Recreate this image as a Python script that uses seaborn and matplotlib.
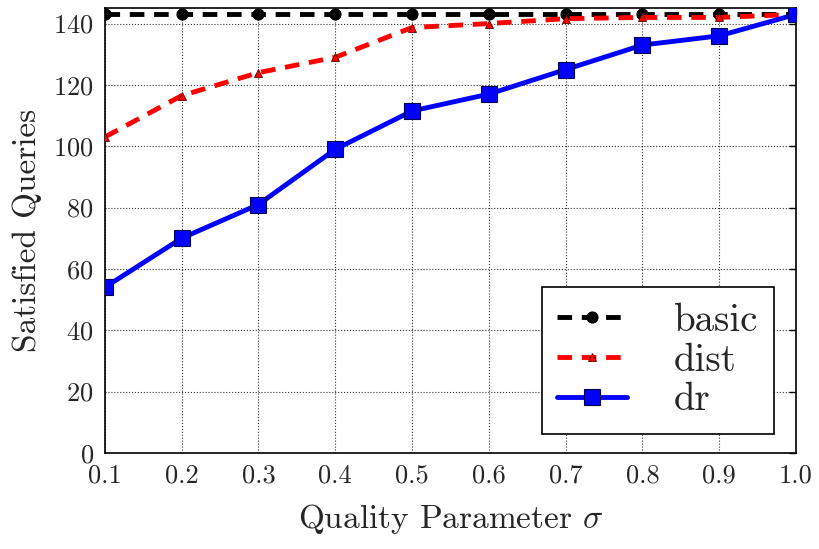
import numpy as np
import pandas as pd
import matplotlib
matplotlib.use("Agg")
import matplotlib.pyplot as plt
import seaborn as sns

sigma = [0.1, 0.2, 0.3, 0.4, 0.5, 0.6, 0.7, 0.8, 0.9, 1.0]
basic = [143, 143, 143, 143, 143, 143, 143, 143, 143, 143]
dist = [103, 116.5, 124, 129, 138.7, 140, 141.6, 142, 142, 143]
dr = [54, 70, 81, 99, 111.5, 117, 125, 133, 136, 143]

sns.set_style("white")
plt.rcParams['font.family'] = ['serif']
plt.rcParams['font.serif'] = ['cmr10', 'DejaVu Serif']
plt.rcParams['mathtext.fontset'] = 'cm'
plt.rcParams['axes.formatter.use_mathtext'] = True

fig, ax = plt.subplots(figsize=(8.19, 5.49), dpi=100)
fig.subplots_adjust(left=0.128, right=0.972, top=0.985, bottom=0.175)

sns.lineplot(x=sigma, y=basic, ax=ax, color='black', linestyle='--', linewidth=3.5,
             marker='o', markersize=8, markeredgecolor='black', label='basic', zorder=3)
sns.lineplot(x=sigma, y=dist, ax=ax, color='red', linestyle='--', linewidth=3.5,
             marker='^', markersize=6, markeredgecolor='#550000', markeredgewidth=0.6,
             label='dist', zorder=3)
sns.lineplot(x=sigma, y=dr, ax=ax, color='blue', linestyle='-', linewidth=3.5,
             marker='s', markersize=12, markeredgecolor='#000055', markeredgewidth=0.8,
             label='dr', zorder=3)
for ln in ax.lines[:2]:
    ln.set_dashes((3, 2))

ax.set_xlim(0.1, 1.0)
ax.set_ylim(0, 145)
ax.set_xticks(sigma)
ax.set_xticklabels([f"{v:.1f}" for v in sigma])
ax.set_yticks(range(0, 141, 20))
ax.tick_params(axis='both', labelsize=19, direction='in', top=True, right=True,
               length=5, width=1, color='black', pad=8)
ax.grid(True, linestyle=':', color='black', linewidth=0.8, alpha=0.8)
for s in ax.spines.values():
    s.set_visible(True)
    s.set_color('black')
    s.set_linewidth(1.2)

ax.set_xlabel(r"Quality Parameter $\sigma$", fontsize=24, labelpad=10)
ax.set_ylabel("Satisfied Queries", fontsize=24, labelpad=8)

leg = ax.legend(loc='lower right', bbox_to_anchor=(0.968, 0.043), fontsize=28,
                fancybox=False, framealpha=1, edgecolor='black', borderpad=0.4,
                handlelength=1.8, labelspacing=0.1, handletextpad=1.2, borderaxespad=0)
leg.get_frame().set_linewidth(1.2)
for h in leg.legend_handles:
    if h.get_linestyle() == '--':
        h.set_dashes((3, 2))

fig.savefig("out.png", dpi=100)
